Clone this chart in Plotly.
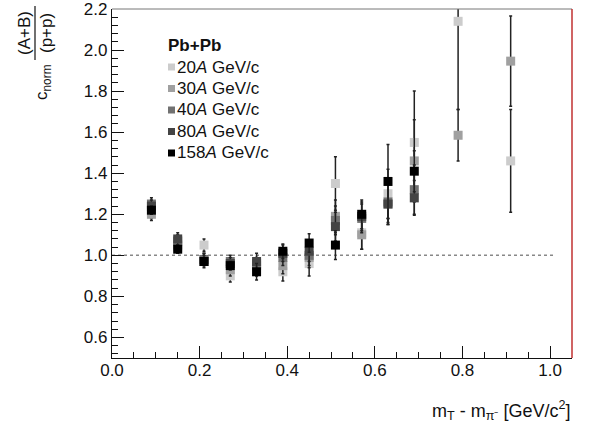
import plotly.graph_objects as go

# ---- data ----
mt = [0.09, 0.15, 0.21, 0.27, 0.33, 0.39, 0.45, 0.51, 0.57, 0.63, 0.69, 0.79, 0.91]

labels = ["20<i>A</i> GeV/c", "30<i>A</i> GeV/c", "40<i>A</i> GeV/c", "80<i>A</i> GeV/c", "158<i>A</i> GeV/c"]
colors = ["#cccccc", "#a0a0a0", "#717171", "#444444", "#000000"]

c20 = [1.21, 1.04, 1.05, 0.90, 0.93, 0.92, 0.96, 1.35, 1.11, 1.30, 1.55, 2.14, 1.46]
c30 = [1.20, 1.05, 0.98, 0.93, 0.95, 0.95, 0.99, 1.19, 1.10, 1.25, 1.46, 1.585, 1.946]
c40 = [1.25, 1.07, 0.98, 0.97, 0.96, 0.99, 1.00, 1.17, 1.18, 1.26, 1.32]
c80 = [1.24, 1.08, 0.97, 0.96, 0.97, 1.01, 1.02, 1.14, 1.19, 1.25, 1.28]
c158 = [1.22, 1.03, 0.97, 0.95, 0.92, 1.02, 1.06, 1.05, 1.20, 1.36, 1.41]

e20 = [0.03, 0.03, 0.03, 0.03, 0.03, 0.045, 0.06, 0.13, 0.08, 0.12, 0.25, 0.43, 0.25]
e30 = [0.03, 0.03, 0.03, 0.03, 0.03, 0.04, 0.05, 0.08, 0.07, 0.10, 0.20, 0.125, 0.22]
e40 = [0.03, 0.03, 0.03, 0.03, 0.03, 0.04, 0.05, 0.07, 0.07, 0.10, 0.12]
e80 = [0.03, 0.03, 0.03, 0.03, 0.04, 0.04, 0.05, 0.07, 0.07, 0.10, 0.085]
e158 = [0.02, 0.02, 0.02, 0.02, 0.04, 0.035, 0.045, 0.07, 0.07, 0.18, 0.10]

series = [c20, c30, c40, c80, c158]
errors = [e20, e30, e40, e80, e158]

x_ticks = [0.0, 0.2, 0.4, 0.6, 0.8, 1.0]
y_ticks = [0.6, 0.8, 1.0, 1.2, 1.4, 1.6, 1.8, 2.0, 2.2]

# ---- layout geometry (pixels) ----
W, H = 591, 430
L, R, T, B = 112, 19, 9, 72
pw, ph = W - L - R, H - T - B

def px(x):
    return (x - L) / pw

def py(y):
    return (H - B - y) / ph

fig = go.Figure()
for vals, errs, col, lab in zip(series, errors, colors, labels):
    fig.add_trace(go.Scatter(
        x=mt[:len(vals)], y=vals, mode="markers", name=lab, showlegend=False,
        marker=dict(symbol="square", size=9, color=col, line=dict(width=0)),
        error_y=dict(type="data", array=errs, visible=True, color="#222222",
                     thickness=1.5, width=1.5),
        cliponaxis=True,
    ))

font = "Liberation Sans, Arial, Helvetica, sans-serif"

fig.update_layout(
    width=W, height=H,
    margin=dict(l=L, r=R, t=T, b=B, autoexpand=False),
    paper_bgcolor="white", plot_bgcolor="white",
    font=dict(family=font, size=17, color="#111111"),
    xaxis=dict(range=[0.0, 1.05], tickvals=x_ticks, ticktext=[f"{v:.1f}" for v in x_ticks],
               ticks="inside", ticklen=12, tickwidth=1, tickcolor="#111",
               minor=dict(dtick=0.05, tick0=0, ticks="inside", ticklen=6, tickcolor="#111"),
               showline=True, linecolor="#111", linewidth=1.2, showgrid=False, zeroline=False,
               tickfont=dict(size=17), automargin=False, ticklabelstandoff=-4,
               ticklabeloverflow="allow"),
    yaxis=dict(range=[0.5, 2.2], tickvals=y_ticks, ticktext=[f"{v:.1f}" for v in y_ticks],
               ticks="inside", ticklen=12, tickwidth=1, tickcolor="#111",
               minor=dict(dtick=0.04, tick0=0.6, ticks="inside", ticklen=6, tickcolor="#111"),
               showline=True, linecolor="#111", linewidth=1.2, showgrid=False, zeroline=False,
               tickfont=dict(size=17), automargin=False, ticklabeloverflow="allow"),
)

# reference line at 1
fig.add_shape(type="line", xref="x", yref="y", x0=0.0, x1=1.01, y0=1.0, y1=1.0,
              line=dict(color="#888888", width=1.5, dash="3px,3px"), layer="below")
# frame top / right
fig.add_shape(type="line", xref="paper", yref="paper", x0=0, x1=1, y0=1, y1=1,
              line=dict(color="#777777", width=1))
fig.add_shape(type="line", xref="paper", yref="paper", x0=1, x1=1, y0=0, y1=1,
              line=dict(color="#c03030", width=1.5))

# y title
ann = dict(xref="paper", yref="paper", textangle=-90, showarrow=False,
           xanchor="center", yanchor="middle", font=dict(size=17))
fig.add_annotation(x=px(43), y=py(82), text="c<sub>norm</sub>", **ann)
fig.add_annotation(x=px(25), y=py(33), text="(A+B)", **ann)
fig.add_annotation(x=px(47), y=py(33), text="(p+p)", **ann)
fig.add_shape(type="line", xref="paper", yref="paper", x0=px(35), x1=px(35), y0=py(6), y1=py(60),
              line=dict(color="#111", width=1.2))

# x title
fig.add_annotation(xref="paper", yref="paper", x=1, y=py(410), xanchor="right", yanchor="middle",
                   text="m<sub>T</sub> - m<sub>π⁻</sub> [GeV/c<sup>2</sup>]",
                   showarrow=False, font=dict(size=18))

# legend (manual)
fig.add_annotation(xref="paper", yref="paper", x=px(166), y=py(45), xanchor="left", yanchor="middle",
                   text="<b>Pb+Pb</b>", showarrow=False, font=dict(size=17))
leg_y = [67, 88.5, 110, 131.5, 153]
for yy, col, lab in zip(leg_y, colors, labels):
    fig.add_shape(type="rect", xref="paper", yref="paper",
                  x0=px(168), x1=px(175), y0=py(yy + 3.5), y1=py(yy - 3.5),
                  fillcolor=col, line=dict(width=0))
    fig.add_annotation(xref="paper", yref="paper", x=px(175), y=py(yy), xanchor="left", yanchor="middle",
                       text=lab, showarrow=False, font=dict(size=17))

fig.write_html("out.html")
